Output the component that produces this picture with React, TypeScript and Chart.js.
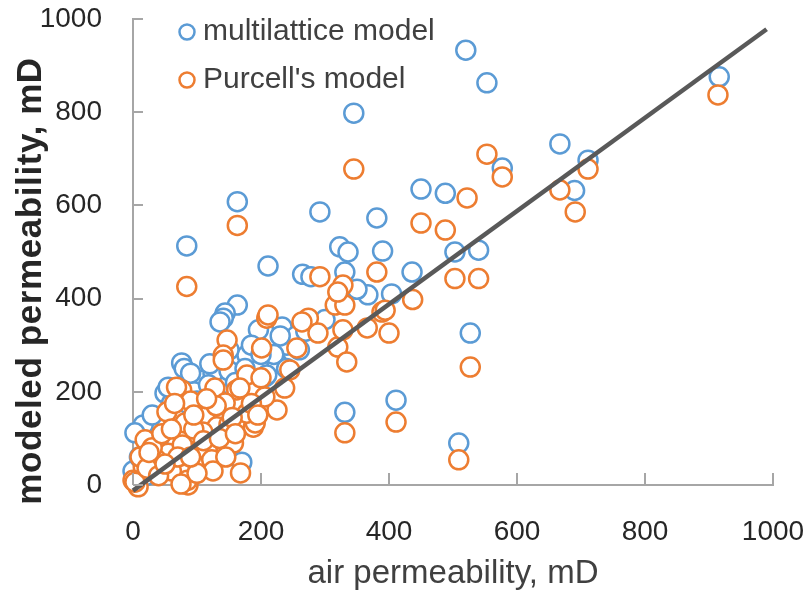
import React, { useEffect, useRef } from "react";
import { Chart, registerables } from "chart.js";

Chart.register(...registerables);

// ---------- data ----------
const axisTicks = [0, 200, 400, 600, 800, 1000];
const seriesNames = ["multilattice model", "Purcell's model"];
const xTitle = "air permeability, mD";
const yTitle = "modeled permeability, mD";

const multilatticeX = [
  916, 520, 553, 667, 711, 690, 450, 488, 577, 503, 540, 436, 345, 163, 84, 292, 381, 211, 323, 336,
  390, 265, 278, 331, 367, 404, 331, 411, 509, 527, 170,
  163, 144, 141, 136, 76, 80, 233, 196, 206, 109, 125, 167, 178, 225, 209, 50, 16, 3, 0,
  10, 30, 60, 95, 118, 150, 185, 240, 255, 300, 350, 270, 220, 100, 130, 160, 40, 70, 20,
  55, 90, 120, 150, 175, 200, 240, 190, 230, 260,
];
const multilatticeY = [
  876, 933, 863, 732, 697, 632, 635, 626, 680, 500, 504, 457, 798, 608, 513, 586, 573, 470, 511, 500,
  502, 452, 447, 457, 408, 410, 156, 182, 90, 326, 49,
  386, 369, 358, 350, 262, 250, 339, 333, 232, 225, 240, 268, 279, 262, 236, 197, 129, 112, 30,
  60, 150, 175, 200, 215, 245, 300, 300, 320, 355, 420, 330, 280, 180, 190, 220, 100, 140, 20,
  210, 240, 260, 290, 250, 280, 250, 200, 320, 290,
];

const purcellX = [
  914, 522, 553, 667, 711, 691, 450, 488, 577, 503, 540, 437, 345, 163, 84, 292, 381, 331, 411, 509,
  527, 168,
  147, 141, 209, 274, 264, 289, 256, 201, 245, 237, 225, 188, 178, 162, 128, 144, 157, 320, 334, 328,
  366, 400, 389, 316, 331, 328, 320, 53, 76, 68, 81, 19, 78, 86, 105, 120, 55, 37, 16, 0, 8, 100,
  112, 131, 167, 11, 77, 3, 22, 109, 117, 102, 141, 206, 191, 178, 116, 123, 211, 394, 85, 30, 45,
  60, 95, 150, 90, 75,
  40, 60, 70, 95, 110, 125, 135, 145, 155, 65, 50, 25, 130, 100, 90, 115, 185, 200, 195, 160,
];
const purcellY = [
  837, 616, 710, 633, 678, 586, 562, 547, 661, 443, 443, 398, 678, 557, 426, 447, 457, 112, 135, 54,
  253, 26,
  311, 279, 358, 358, 350, 326, 294, 294, 247, 208, 161, 124, 236, 204, 208, 176, 90, 296, 264, 333,
  337, 326, 371, 386, 386, 429, 414, 157, 204, 210, 133, 97, 36, 0, 79, 54, 68, 54, 39, 10, -4, 165,
  146, 125, 208, 60, 86, 6, 36, 114, 68, 39, 268, 189, 133, 154, 75, 54, 365, 375, 10, 80, 110,
  30, 120, 130, 180, 2,
  20, 120, 60, 150, 95, 30, 100, 60, 145, 175, 45, 70, 170, 25, 60, 185, 175, 230, 150, 110,
];

const fitLineX = [0, 990];
const fitLineY = [-12, 978];

// ---------- styles ----------
const BLUE = "#5B9BD5";
const ORANGE = "#ED7D31";
const LINE = "#595959";
const AXIS = "#A6A6A6";
const TEXT = "#262626";
const SANS = "'Liberation Sans', Arial, sans-serif";

const toPoints = (xs: number[], ys: number[]) => xs.map((x, i) => ({ x, y: ys[i] }));

const overlayPlugin = {
  id: "overlay",
  afterDraw(chart: any) {
    const { ctx, chartArea } = chart;
    const xs = chart.scales.x;
    const ys = chart.scales.y;
    ctx.save();
    // inward tick marks
    ctx.strokeStyle = AXIS;
    ctx.lineWidth = 2;
    for (const v of axisTicks) {
      const px = Math.round(xs.getPixelForValue(v));
      ctx.beginPath();
      ctx.moveTo(px, chartArea.bottom);
      ctx.lineTo(px, chartArea.bottom - 12);
      ctx.stroke();
      const py = Math.round(ys.getPixelForValue(v));
      ctx.beginPath();
      ctx.moveTo(chartArea.left, py);
      ctx.lineTo(chartArea.left + 10, py);
      ctx.stroke();
    }
    // y title
    ctx.save();
    ctx.translate(31, 281);
    ctx.rotate(-Math.PI / 2);
    ctx.font = "bold 35px " + SANS;
    try {
      (ctx as any).letterSpacing = "0.6px";
    } catch (e) {}
    ctx.fillStyle = TEXT;
    ctx.textAlign = "center";
    ctx.textBaseline = "middle";
    ctx.fillText(yTitle, 0, 0);
    ctx.restore();
    // legend
    const colors = [BLUE, ORANGE];
    const rowsY = [32, 80];
    ctx.font = "30px " + SANS;
    ctx.textAlign = "left";
    ctx.textBaseline = "middle";
    seriesNames.forEach((name, i) => {
      ctx.beginPath();
      ctx.arc(187, rowsY[i], 7.5, 0, Math.PI * 2);
      ctx.fillStyle = "#ffffff";
      ctx.fill();
      ctx.lineWidth = 2.5;
      ctx.strokeStyle = colors[i];
      ctx.stroke();
      ctx.fillStyle = "#404040";
      ctx.fillText(name, 203, rowsY[i]);
    });
    ctx.restore();
  },
};

const zeroPad = (s: any) => {
  s.paddingTop = 0;
  s.paddingBottom = 0;
  s.paddingLeft = 0;
  s.paddingRight = 0;
};

export default function App() {
  const ref = useRef<HTMLCanvasElement | null>(null);

  useEffect(() => {
    document.body.style.margin = "0";
    const canvas = ref.current;
    if (!canvas) return;
    const markerCommon = {
      pointRadius: 9.5,
      pointHoverRadius: 9.5,
      pointBorderWidth: 2.5,
      pointBackgroundColor: "#ffffff",
      showLine: false,
      clip: false as any,
    };
    const chart = new Chart(canvas, {
      type: "scatter",
      data: {
        datasets: [
          {
            label: "fit",
            data: toPoints(fitLineX, fitLineY),
            showLine: true,
            borderColor: LINE,
            borderWidth: 4.5,
            pointRadius: 0,
            pointHoverRadius: 0,
            clip: false as any,
            order: 0,
          },
          {
            label: seriesNames[1],
            data: toPoints(purcellX, purcellY),
            borderColor: ORANGE,
            pointBorderColor: ORANGE,
            ...markerCommon,
            order: 1,
          },
          {
            label: seriesNames[0],
            data: toPoints(multilatticeX, multilatticeY),
            borderColor: BLUE,
            pointBorderColor: BLUE,
            ...markerCommon,
            order: 2,
          },
        ],
      },
      options: {
        responsive: false,
        animation: false,
        events: [],
        layout: { padding: { top: 19, right: 35, left: 0, bottom: 0 } },
        plugins: {
          legend: { display: false },
          tooltip: { enabled: false },
        },
        scales: {
          x: {
            type: "linear",
            min: 0,
            max: 1000,
            afterBuildTicks: (s: any) => {
              s.ticks = axisTicks.map((v) => ({ value: v }));
            },
            afterFit: (s: any) => {
              s.height = 118;
              zeroPad(s);
            },
            grid: { display: false, drawTicks: false },
            border: { display: true, color: AXIS, width: 2 },
            ticks: {
              padding: 30,
              color: TEXT,
              font: { family: SANS, size: 28 },
              maxRotation: 0,
              callback: (v: any) => String(v),
            },
            title: {
              display: true,
              text: xTitle,
              color: "#404040",
              font: { family: SANS, size: 33 },
              padding: { top: 0, bottom: 9 },
            },
          },
          y: {
            type: "linear",
            min: 0,
            max: 1000,
            afterBuildTicks: (s: any) => {
              s.ticks = axisTicks.map((v) => ({ value: v }));
            },
            afterFit: (s: any) => {
              s.width = 133;
              zeroPad(s);
            },
            grid: { display: false, drawTicks: false },
            border: { display: true, color: AXIS, width: 2 },
            ticks: {
              padding: 31,
              color: TEXT,
              font: { family: SANS, size: 28 },
              callback: (v: any) => String(v),
            },
          },
        },
      },
      plugins: [overlayPlugin],
    });
    return () => chart.destroy();
  }, []);

  return <canvas ref={ref} width={808} height={603} style={{ display: "block" }} />;
}
